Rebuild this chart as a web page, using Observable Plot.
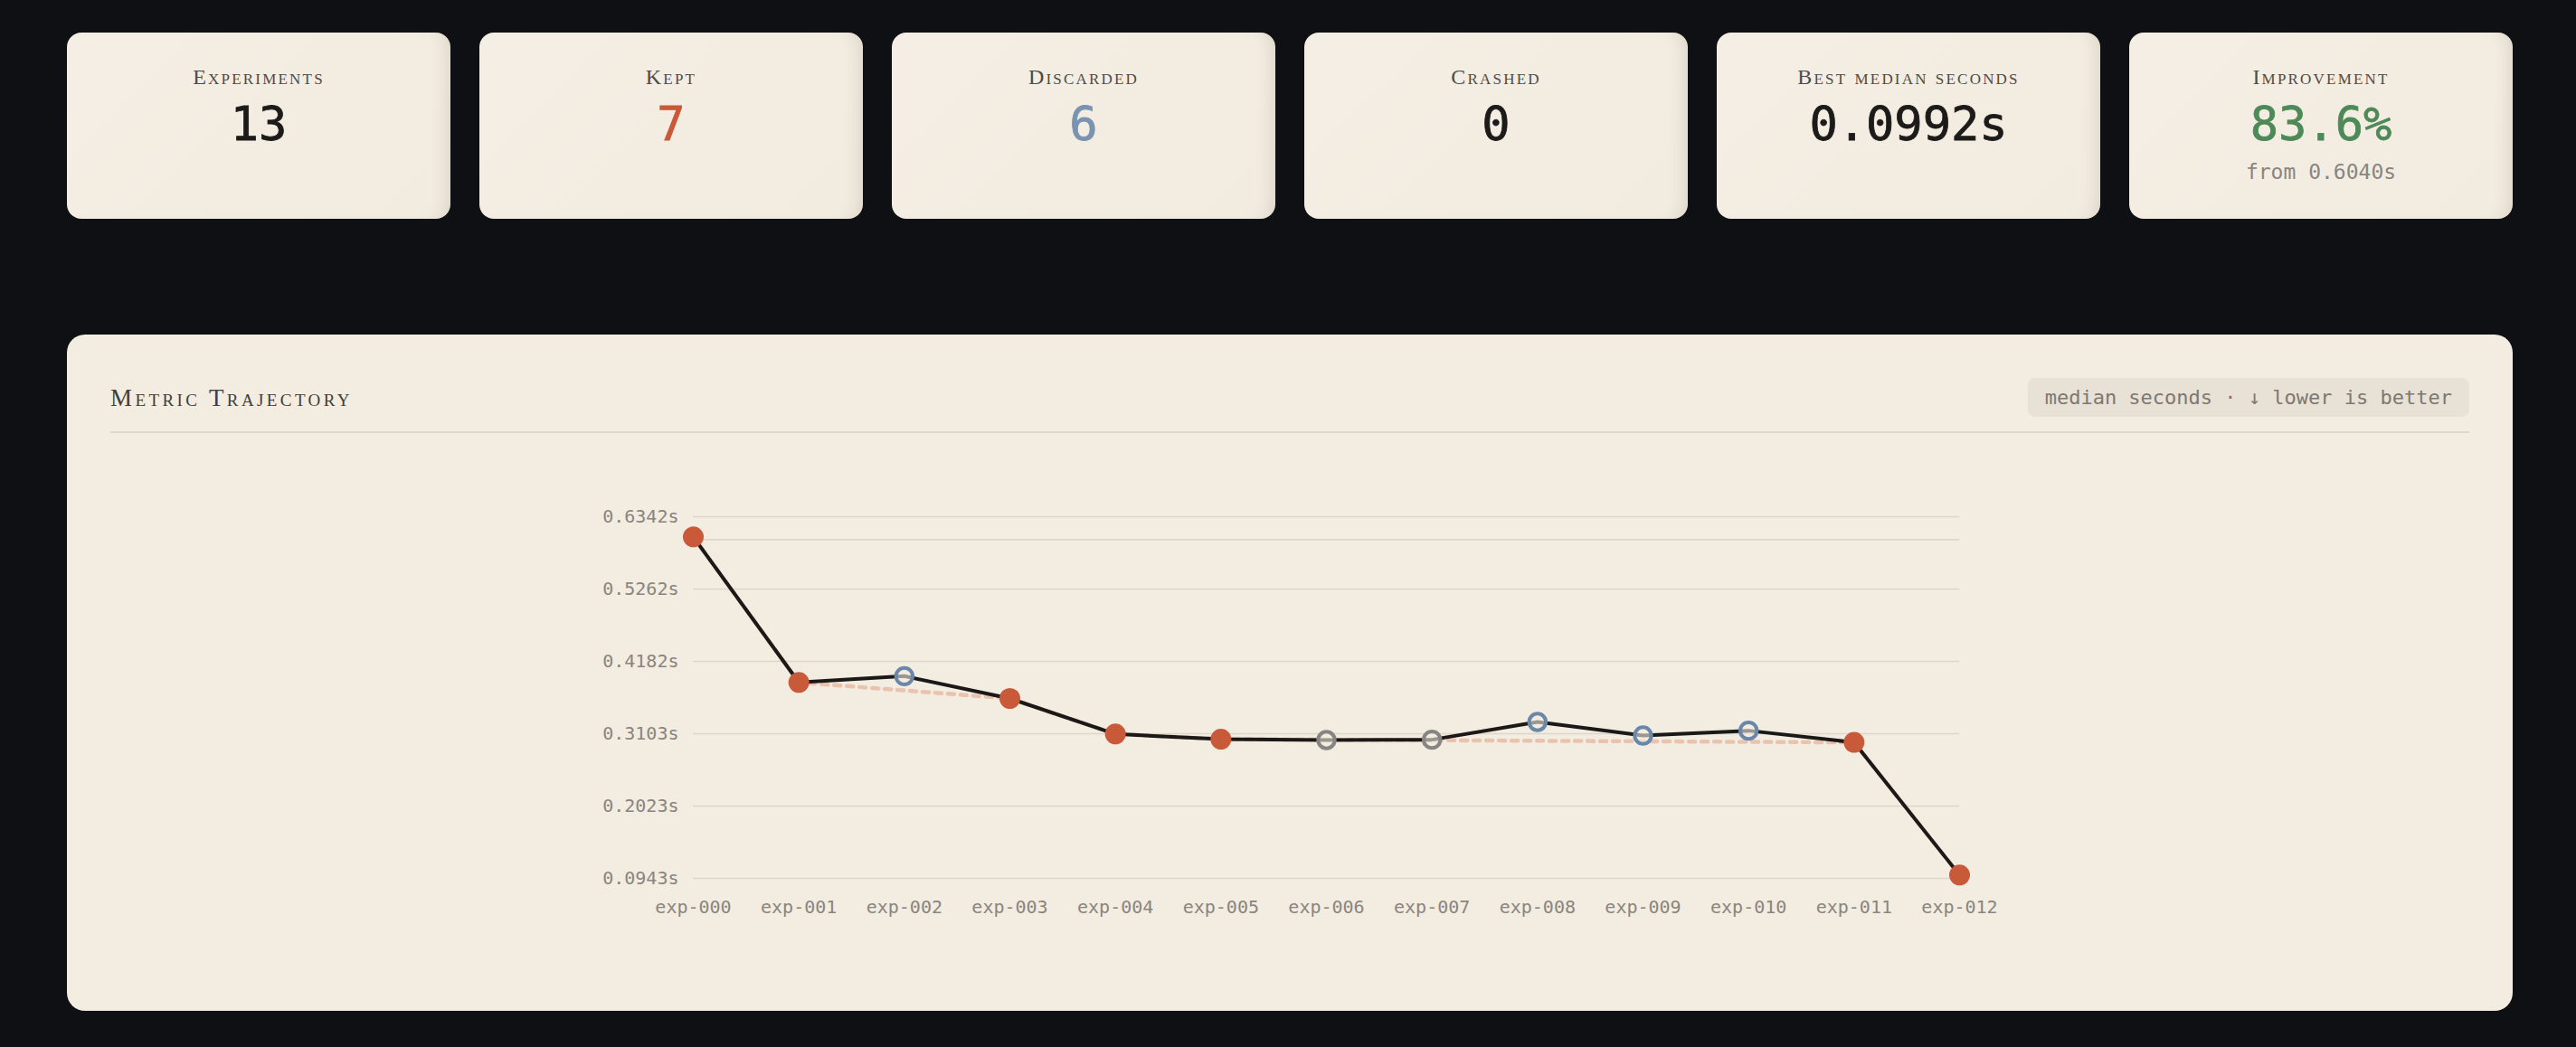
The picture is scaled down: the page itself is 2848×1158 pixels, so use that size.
<!DOCTYPE html>
<html>
<head>
<meta charset="utf-8">
<script src="https://cdn.jsdelivr.net/npm/d3@7"></script>
<script src="https://cdn.jsdelivr.net/npm/@observablehq/plot@0.6"></script>
<style>
  html, body { margin: 0; padding: 0; background: #0e1014; width: 2848px; height: 1158px; overflow: hidden; }
  .stats { position: absolute; left: 74px; top: 36px; width: 2704px; height: 206px; display: grid; grid-template-columns: repeat(6, 1fr); gap: 32px; }
  .stat { background: linear-gradient(135deg, #f4eee4 0%, #f1ebe0 100%); border-radius: 16px; position: relative; box-shadow: inset -16px 0 20px -16px rgba(110, 90, 60, 0.22); }
  .stat .label { position: absolute; left: 0; right: 0; top: 34px; line-height: 30px; text-align: center; font-family: "Liberation Serif", serif; font-variant: small-caps; font-size: 24px; letter-spacing: 2.2px; color: #4f4b45; }
  .stat .value { position: absolute; left: 0; right: 0; top: 71px; line-height: 60px; text-align: center; font-family: "DejaVu Sans Mono", monospace; font-size: 52px; color: #1c1b19; -webkit-text-stroke: 0.8px currentColor; }
  .stat .sub { position: absolute; left: 0; right: 0; top: 140px; line-height: 28px; text-align: center; font-family: "DejaVu Sans Mono", monospace; font-size: 23px; color: #8a857e; }
  .card { position: absolute; left: 74px; top: 370px; width: 2704px; height: 748px; border-radius: 20px; background: #f2ece1; }
  .title { position: absolute; left: 48px; top: 54px; line-height: 32px; font-family: "Liberation Serif", serif; font-variant: small-caps; font-size: 27px; letter-spacing: 3.4px; color: #423e39; }
  .hr { position: absolute; left: 48px; right: 48px; top: 107px; height: 2px; background: #ddd7cc; }
  .badge { position: absolute; right: 48px; top: 48px; height: 43px; line-height: 43px; padding: 0 19px; border-radius: 8px; background: #e8e1d5; font-family: "DejaVu Sans Mono", monospace; font-size: 22px; color: #7d7870; }
  #chart { position: absolute; left: 572px; top: 171px; }
</style>
</head>
<body>
<div class="stats" id="stats"></div>
<div class="card">
  <div class="title">Metric Trajectory</div>
  <div class="badge">median seconds · ↓ lower is better</div>
  <div class="hr"></div>
  <div id="chart"></div>
</div>
<script>
// ---- stat cards ----
const statLabels = ["Experiments", "Kept", "Discarded", "Crashed", "Best median seconds", "Improvement"];
const statValues = ["13", "7", "6", "0", "0.0992s", "83.6%"];
const statSubs = ["", "", "", "", "", "from 0.6040s"];
const statTones = ["plain", "kept", "discarded", "plain", "plain", "good"];
const toneColor = { plain: "#1c1b19", kept: "#c85a3a", discarded: "#7a93b0", good: "#4d8a57" };

// ---- chart data ----
const experiments = ["exp-000", "exp-001", "exp-002", "exp-003", "exp-004", "exp-005", "exp-006",
                     "exp-007", "exp-008", "exp-009", "exp-010", "exp-011", "exp-012"];
const medianSeconds = [0.6040, 0.3868, 0.3962, 0.3629, 0.3098, 0.3021, 0.3008,
                       0.3013, 0.3278, 0.3075, 0.3148, 0.2973, 0.0992];
const statuses = ["kept", "kept", "discarded", "kept", "kept", "kept", "discarded",
                  "discarded", "discarded", "discarded", "discarded", "kept", "kept"];
const withinNoise = [false, false, false, false, false, false, true,
                     true, false, false, false, false, false];
const yTicks = [0.0943, 0.2023, 0.3103, 0.4182, 0.5262, 0.6342];
const yTickLabels = ["0.0943s", "0.2023s", "0.3103s", "0.4182s", "0.5262s", "0.6342s"];
const extraGrid = [0.6];

// build stat cards
const statsEl = document.getElementById("stats");
statLabels.forEach((lab, i) => {
  const c = document.createElement("div");
  c.className = "stat";
  const l = document.createElement("div"); l.className = "label"; l.textContent = lab;
  const v = document.createElement("div"); v.className = "value"; v.textContent = statValues[i];
  v.style.color = toneColor[statTones[i]];
  c.appendChild(l); c.appendChild(v);
  if (statSubs[i]) { const s = document.createElement("div"); s.className = "sub"; s.textContent = statSubs[i]; c.appendChild(s); }
  statsEl.appendChild(c);
});

const rows = experiments.map((e, i) => ({ exp: e, value: medianSeconds[i], status: statuses[i], flat: withinNoise[i] }));
const kept = rows.filter(d => d.status === "kept");
const discardedBlue = rows.filter(d => d.status === "discarded" && !d.flat);
const discardedGray = rows.filter(d => d.status === "discarded" && d.flat);

const chart = Plot.plot({
  width: 1560,
  height: 480,
  marginLeft: 120,
  marginRight: 40,
  marginTop: 30,
  marginBottom: 50,
  style: { background: "transparent", fontFamily: "DejaVu Sans Mono, monospace", fontSize: "20px", color: "#8a857e", overflow: "visible" },
  x: { type: "point", domain: experiments, padding: 0, round: false, label: null, tickSize: 0, tickPadding: 24 },
  y: { domain: [yTicks[0], yTicks[yTicks.length - 1]], ticks: yTicks, tickFormat: d => yTickLabels[yTicks.indexOf(d)], label: null, tickSize: 0, tickPadding: 16 },
  marks: [
    Plot.ruleY(yTicks.concat(extraGrid), { stroke: "#ddd6ca", strokeWidth: 1.6 }),
    Plot.line(kept, { x: "exp", y: "value", stroke: "#e9c3ae", strokeWidth: 4.5, strokeDasharray: "7,7" }),
    Plot.line(rows, { x: "exp", y: "value", stroke: "#1b1917", strokeWidth: 4 }),
    Plot.dot(kept, { x: "exp", y: "value", r: 11.5, fill: "#c85a3a" }),
    Plot.dot(discardedBlue, { x: "exp", y: "value", r: 9.2, stroke: "#6a87aa", strokeWidth: 4, fill: "#f2ece1", fillOpacity: 0.6 }),
    Plot.dot(discardedGray, { x: "exp", y: "value", r: 9.2, stroke: "#878582", strokeWidth: 4, fill: "#f2ece1", fillOpacity: 0.6 })
  ]
});
document.getElementById("chart").appendChild(chart);
</script>
</body>
</html>
